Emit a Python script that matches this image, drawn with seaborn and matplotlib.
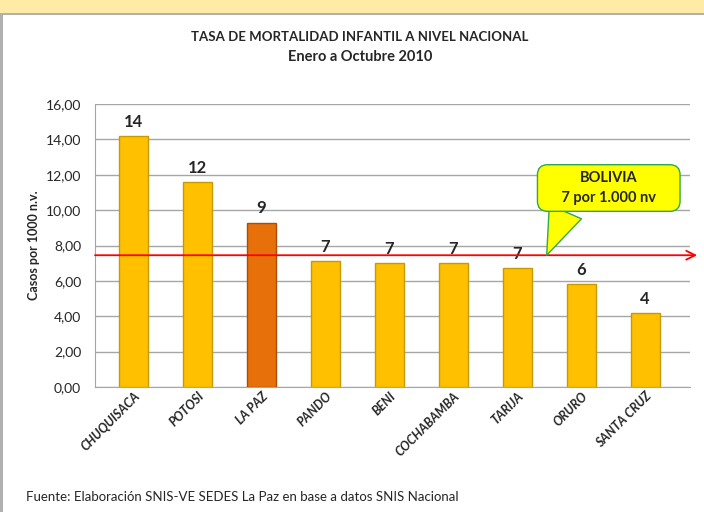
import pandas as pd
import seaborn as sns
import matplotlib.pyplot as plt
from matplotlib.patches import Rectangle

# Datos
departamentos = ['CHUQUISACA', 'POTOSI', 'LA PAZ', 'PANDO', 'BENI',
                 'COCHABAMBA', 'TARIJA', 'ORURO', 'SANTA CRUZ']
tasas = [14.2, 11.6, 9.3, 7.1, 7.0, 7.0, 6.7, 5.8, 4.2]
etiquetas = ['14', '12', '9', '7', '7', '7', '7', '6', '4']
tasa_bolivia = 7.45
yticks = [0, 2, 4, 6, 8, 10, 12, 14, 16]

df = pd.DataFrame({'depto': departamentos, 'tasa': tasas})
colores = ['#E8700A' if d == 'LA PAZ' else '#FFC000' for d in departamentos]

sns.set_style('white')
plt.rcParams['font.family'] = ['Lato', 'DejaVu Sans']

fig = plt.figure(figsize=(7.04, 5.12), dpi=100)
# franja superior y borde
fig.patches.append(Rectangle((0, 1 - 13/512), 1, 13/512, transform=fig.transFigure,
                             facecolor='#FFEBA5', edgecolor='none', zorder=0))
fig.patches.append(Rectangle((0, 1 - 15/512), 1, 2/512, transform=fig.transFigure,
                             facecolor='#B0B0B0', edgecolor='none', zorder=0))
fig.patches.append(Rectangle((0, 0), 3/704, 1 - 13/512, transform=fig.transFigure,
                             facecolor='#B0B0B0', edgecolor='none', zorder=0))

ax = fig.add_axes([95/704, 1 - 387/512, 595/704, 283/512])
sns.barplot(data=df, x='depto', y='tasa', hue='depto', palette=colores,
            saturation=1, legend=False, width=0.46, ax=ax, edgecolor='#C89A00',
            linewidth=1.0, zorder=3)
ax.patches[2].set_edgecolor('#A84E05')

ax.set_ylim(0, 16)
ax.set_xlim(-0.6, 8.7)
ax.set_yticks(yticks)
ax.set_yticklabels([f'{v:.2f}'.replace('.', ',') for v in yticks], fontsize=10)
ax.yaxis.grid(True, color='#A6A6A6', linewidth=1.0, zorder=0)
ax.set_axisbelow(True)
for s in ['top', 'right']:
    ax.spines[s].set_visible(False)
ax.spines['left'].set_color('#A6A6A6')
ax.spines['bottom'].set_color('#A6A6A6')
ax.tick_params(axis='y', length=0, pad=10)
ax.tick_params(axis='x', length=0, pad=2)
ax.set_xlabel('')
ax.set_ylabel('Casos por 1000 n.v.', fontsize=9, fontweight='bold', labelpad=4)
ax.set_xticks(range(len(departamentos)))
ax.set_xticklabels(departamentos, rotation=45, ha='right', rotation_mode='anchor',
                   fontsize=9, fontweight='bold', fontstyle='italic')

for i, (v, t) in enumerate(zip(tasas, etiquetas)):
    ax.text(i, v + 0.35, t, ha='center', va='bottom', fontsize=12, fontweight='bold')

# linea nacional
ax.annotate('', xy=(1.012, tasa_bolivia), xycoords=('axes fraction', 'data'),
            xytext=(0, tasa_bolivia), textcoords=('axes fraction', 'data'),
            arrowprops=dict(arrowstyle='->', color='red', lw=1.3,
                            mutation_scale=16, shrinkA=0, shrinkB=0),
            zorder=5, annotation_clip=False)

ax.annotate('BOLIVIA\n     7 por 1.000 nv     ', xy=(6.46, tasa_bolivia), xycoords='data',
            xytext=(7.43, 11.25), textcoords='data', ha='center', va='center',
            multialignment='center', fontsize=10.5, fontweight='bold', linespacing=1.5,
            bbox=dict(boxstyle='round,pad=0.45,rounding_size=0.7', fc='#FFFF00',
                      ec='#2EAA4A', lw=1),
            arrowprops=dict(arrowstyle='wedge,tail_width=2.4,shrink_factor=0.5',
                            fc='#FFFF00', ec='#2EAA4A', lw=1, relpos=(0.2, 0.1),
                            shrinkA=0, shrinkB=0),
            zorder=6, annotation_clip=False)

fig.text(360/704, 1 - 37/512, 'TASA DE MORTALIDAD INFANTIL A NIVEL NACIONAL',
         ha='center', va='center', fontsize=9.5, fontweight='bold')
fig.text(360/704, 1 - 57/512, 'Enero a Octubre 2010',
         ha='center', va='center', fontsize=10.5, fontweight='bold')
fig.text(26/704, 1 - 497/512, 'Fuente: Elaboración SNIS-VE SEDES La Paz en base a datos SNIS Nacional',
         ha='left', va='center', fontsize=9.5)

fig.savefig('out.png', dpi=100)
